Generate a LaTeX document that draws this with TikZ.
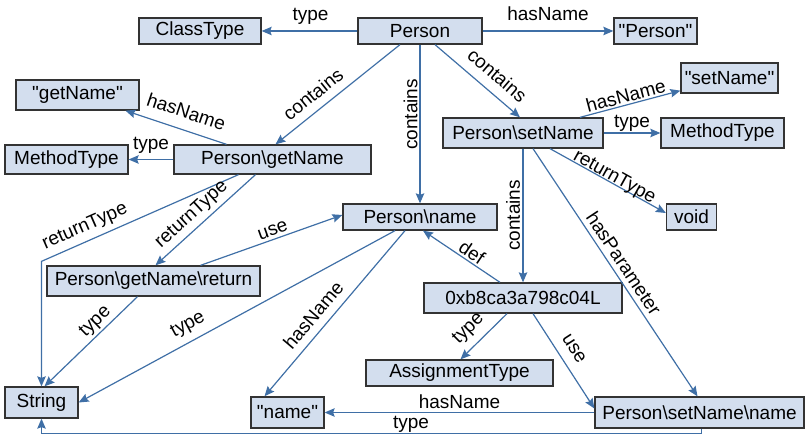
\documentclass[tikz,border=0pt]{standalone}
\usepackage{fontspec}
\setmainfont{Liberation Sans}
\usetikzlibrary{arrows.meta}
\definecolor{entfill}{HTML}{D3DEEE}
\definecolor{entline}{HTML}{333333}
\definecolor{relline}{HTML}{3F6FA6}
\tikzset{
  ent/.style   = {font=\fontsize{19}{23}\selectfont, draw=entline, fill=entfill,
                  line width=1.3pt, inner sep=0pt, minimum height=26pt},
  rel/.style   = {-{Stealth[length=10pt, width=8.5pt, inset=1.5pt]}, line width=1.2pt, draw=relline},
  tag/.style   = {font=\fontsize{19}{23}\selectfont, text depth=0pt, inner xsep=1pt,
                  inner ysep=#1, above},
  lbl/.style   = {tag=#1, sloped},
  lbl/.default = 9pt,
  vlbl/.style  = {tag=#1, rotate=90},
  vlbl/.default = 2pt,
}
\newcommand{\q}[1]{\textquotedbl#1\textquotedbl}
\begin{document}
\begin{tikzpicture}[x=1pt, y=-1pt]
    \useasboundingbox (0,0) rectangle (805,435);
    % entities
    \node[ent, minimum width=122pt]                     (ct)  at (200,31)     {ClassType};
    \node[ent, minimum width=124pt]                     (p)   at (420,31)     {Person};
    \node[ent, minimum width=83pt]                      (pq)  at (655.5,31)   {\q{Person}};
    \node[ent, minimum width=123pt, minimum height=30pt] (gq)  at (77.5,95)    {\q{getName}};
    \node[ent, minimum width=97pt, minimum height=30pt]  (sq)  at (729.5,78)   {\q{setName}};
    \node[ent, minimum width=160pt, minimum height=30pt] (s)   at (523,133)    {Person\textbackslash setName};
    \node[ent, minimum width=123pt, minimum height=30pt] (mt2) at (722.5,133)  {MethodType};
    \node[ent, minimum width=123pt, minimum height=29pt] (mt1) at (66.5,159.5) {MethodType};
    \node[ent, minimum width=197pt, minimum height=29pt] (g)   at (272.5,159.5) {Person\textbackslash getName};
    \node[ent, minimum width=50pt]                      (v)   at (691.5,217)  {void};
    \node[ent, minimum width=154pt]                     (n)   at (420,217)    {Person\textbackslash name};
    \node[ent, minimum width=213pt, minimum height=30pt] (r)   at (153.5,281)  {Person\textbackslash getName\textbackslash return};
    \node[ent, minimum width=198pt, minimum height=30pt] (a)   at (523,298)    {0xb8ca3a798c04L};
    \node[ent, minimum width=187pt]                     (asg) at (459.5,373)  {AssignmentType};
    \node[ent, minimum width=73pt, minimum height=31pt]  (str) at (41.5,402.5) {String};
    \node[ent, minimum width=73pt, minimum height=31pt]  (nq)  at (287.5,412.5) {\q{name}};
    \node[ent, minimum width=209pt, minimum height=31pt] (sn)  at (699.5,412.5) {Person\textbackslash setName\textbackslash name};
    % relations
    \draw[rel] (p) -- node[lbl=10pt, pos=0.49]{type} (ct);
    \draw[rel] (p) -- node[lbl=9.5pt]{hasName} (pq);
    \draw[rel] ([xshift=-20pt]p.south) -- node[lbl=8.5pt, pos=0.62]{contains} ([xshift=3pt]g.north);
    \draw[rel] (p) -- node[vlbl=2pt, pos=0.44]{contains} (n);
    \draw[rel] ([xshift=15pt]p.south) -- node[lbl=10pt, pos=0.6]{contains} ([xshift=-3pt]s.north);
    \draw[rel] ([xshift=-46pt]g.north) -- node[lbl=11pt, pos=0.455]{hasName} ([xshift=48pt]gq.south);
    \draw[rel] (g) -- node[lbl=9.5pt]{type} (mt1);
    \draw[rel] ([xshift=-34pt]g.south) -- node[lbl=9pt, pos=0.75]{returnType} ([yshift=125pt]str.north) -- (str.north);
    \draw[rel] ([xshift=-17pt]g.south) -- node[lbl=8pt, pos=0.55]{returnType} ([xshift=2pt]r.north);
    \draw[rel] ([xshift=47pt]r.north) -- node[lbl=3pt, pos=0.53]{use} ([yshift=2pt]n.west);
    \draw[rel] ([xshift=-16pt]r.south) -- node[lbl=6pt, pos=0.37]{type} ([xshift=3pt]str.north);
    \draw[rel] ([xshift=-25pt]n.south) -- node[lbl=11pt, pos=0.63]{type} (str.east);
    \draw[rel] ([xshift=-15pt]n.south) -- node[lbl=8pt, pos=0.57]{hasName} ([xshift=-23pt]nq.north);
    \draw[rel] ([xshift=-23pt]a.north) -- node[lbl=2pt, pos=0.43]{def} ([xshift=3pt]n.south);
    \draw[rel] (s) -- node[vlbl=2.5pt]{contains} (a);
    \draw[rel] ([xshift=57pt]s.north) -- node[lbl=2pt, pos=0.48]{hasName} ([yshift=3pt]sq.south west);
    \draw[rel] (s) -- node[lbl=5pt]{type} (mt2);
    \draw[rel] ([xshift=27pt]s.south) -- node[lbl=1pt, pos=0.53]{returnType} ([yshift=4pt]v.west);
    \draw[rel] ([xshift=10pt]s.south) -- node[lbl=5pt, pos=0.49]{hasParameter} ([xshift=-2pt]sn.north);
    \draw[rel] ([xshift=-16pt]a.south) -- node[lbl=11pt, pos=0.585]{type} ([xshift=1pt]asg.north);
    \draw[rel] ([xshift=10pt]a.south) -- node[lbl=10pt, pos=0.456]{use} ([yshift=4pt]sn.west);
    \draw[rel] (sn) -- node[lbl=3.5pt]{hasName} (nq);
    \draw[rel] ([xshift=2pt]sn.south) -- ++(0,5) -| node[lbl=5pt, pos=0.22]{type} (str.south);
\end{tikzpicture}
\end{document}
